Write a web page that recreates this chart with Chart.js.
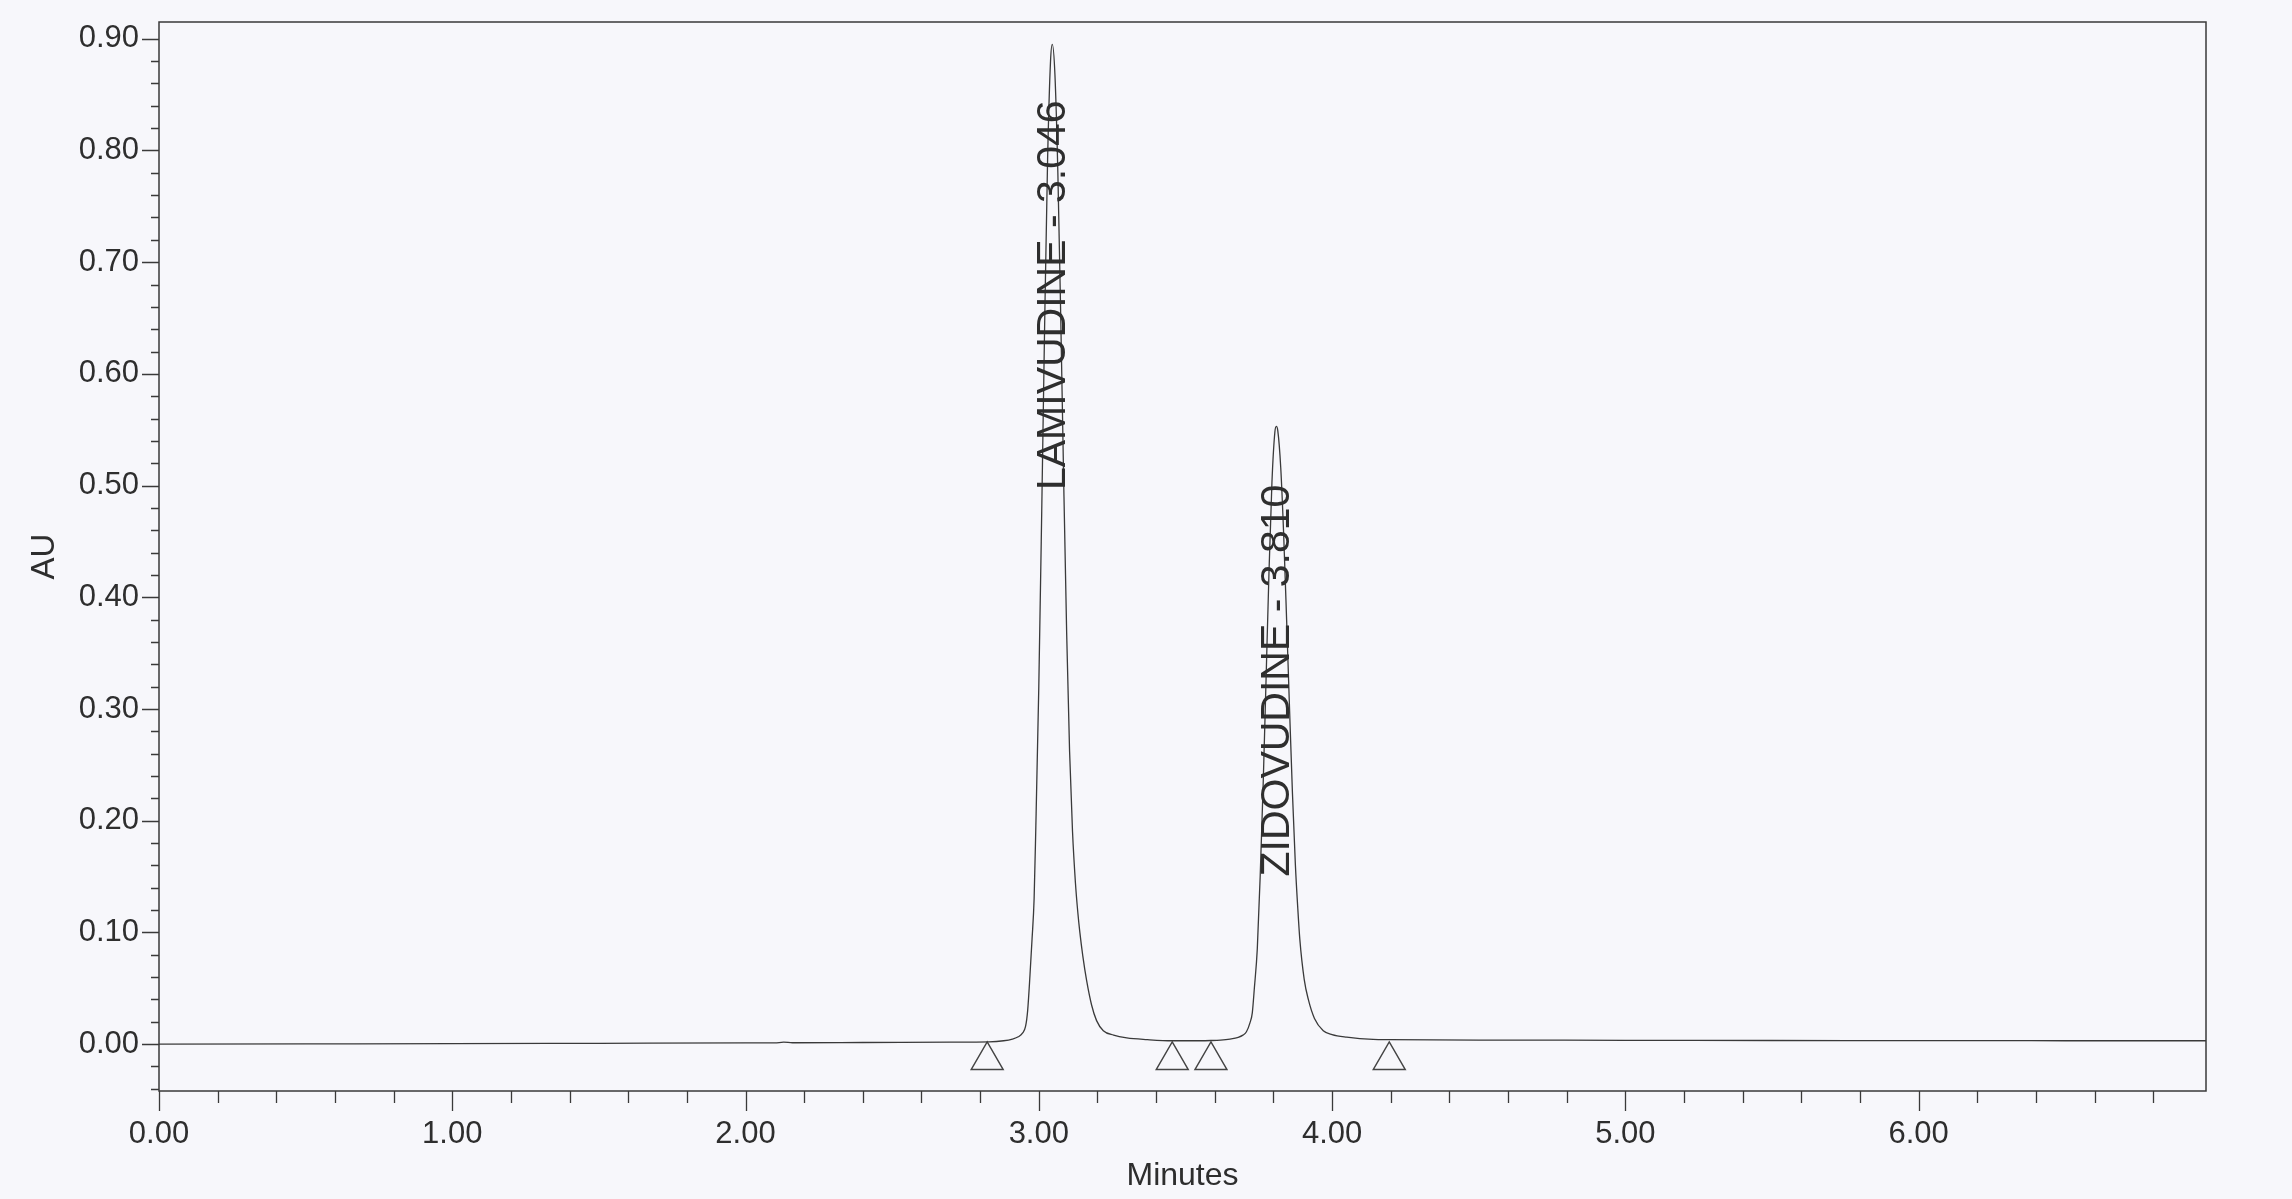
<!DOCTYPE html>
<html>
<head>
<meta charset="utf-8">
<title>Chromatogram</title>
<script src="https://cdn.jsdelivr.net/npm/chart.js@4"></script>
<style>
  html, body { margin: 0; padding: 0; background: #f7f7fb; }
  #wrap { width: 2292px; height: 1199px; position: relative; }
</style>
</head>
<body>
<div id="wrap"><canvas id="chrom"></canvas></div>
<script>
// trace (minutes, AU)
const traceTimes = [
  0.00, 0.50, 1.00, 1.50, 2.00, 2.10, 2.13, 2.16, 2.40, 2.70,
  2.83, 2.88, 2.91, 2.93, 2.945, 2.955, 2.962, 2.970, 2.977, 2.984,
  2.990, 3.000, 3.010, 3.020, 3.030, 3.040, 3.046, 3.055, 3.065, 3.075,
  3.085, 3.095, 3.105, 3.115, 3.125, 3.133, 3.140, 3.150, 3.163, 3.180, 3.197,
  3.220, 3.255, 3.300, 3.370, 3.455, 3.550, 3.587, 3.620, 3.652, 3.680,
  3.696, 3.708, 3.720, 3.728, 3.735, 3.745, 3.755, 3.765, 3.775, 3.785,
  3.795, 3.805, 3.810, 3.815, 3.825, 3.835, 3.845, 3.855, 3.865, 3.875,
  3.883, 3.890, 3.905, 3.919, 3.940, 3.970, 4.000, 4.050, 4.140, 4.195,
  4.50, 5.00, 5.50, 6.00, 6.50, 6.98
];
const traceAU = [
  0.0000, 0.0002, 0.0004, 0.0007, 0.0010, 0.0011, 0.0017, 0.0012, 0.0014, 0.0017,
  0.0020, 0.0030, 0.0045, 0.0065, 0.010, 0.016, 0.030, 0.062, 0.094, 0.130,
  0.196, 0.320, 0.477, 0.645, 0.792, 0.880, 0.895, 0.868, 0.780, 0.648,
  0.502, 0.368, 0.262, 0.190, 0.144, 0.118, 0.100, 0.079, 0.057, 0.035, 0.021,
  0.012, 0.008, 0.0055, 0.0040, 0.0030, 0.0030, 0.0032, 0.0036, 0.0045, 0.0060,
  0.0080, 0.011, 0.019, 0.028, 0.050, 0.085, 0.151, 0.232, 0.327, 0.423,
  0.503, 0.548, 0.553, 0.549, 0.516, 0.456, 0.380, 0.300, 0.224, 0.160,
  0.122, 0.094, 0.058, 0.040, 0.023, 0.012, 0.0085, 0.0062, 0.0042, 0.0040,
  0.0036, 0.0034, 0.0032, 0.0031, 0.0030, 0.0030
];

// integration markers (start / end of each peak)
const markerTimes = [2.824, 3.455, 3.587, 4.195];
const markerAU = [-0.0145, -0.0145, -0.0145, -0.0145];

// peak annotations
const peakNames = ['LAMIVUDINE', 'ZIDOVUDINE'];
const peakTimes = [3.046, 3.810];
const labelBaseAU = [0.496, 0.150];

const FONT = '"Liberation Sans", Arial, Helvetica, sans-serif';
const INK = '#2e2e2e';

function isMajor(v, step) {
  const n = Math.round(v / step * 1000) / 1000;
  return Math.abs(n - Math.round(n)) < 1e-6;
}

// box, major/minor ticks and peak labels
const chromPlugin = {
  id: 'chromPlugin',
  afterDraw(chart) {
    const ctx = chart.ctx;
    const a = chart.chartArea;
    const xs = chart.scales.x, ys = chart.scales.y;
    ctx.save();
    ctx.strokeStyle = '#3a3a3a';
    ctx.lineWidth = 1.5;
    ctx.strokeRect(a.left, a.top, a.right - a.left, a.bottom - a.top);

    ctx.lineWidth = 1.3;
    ctx.beginPath();
    ys.ticks.forEach(t => {
      const py = Math.round(ys.getPixelForValue(t.value)) + 0.5;
      const len = isMajor(t.value, 0.1) ? 17 : 8;
      ctx.moveTo(a.left - len, py);
      ctx.lineTo(a.left, py);
    });
    xs.ticks.forEach(t => {
      const px = Math.round(xs.getPixelForValue(t.value)) + 0.5;
      const len = isMajor(t.value, 1) ? 20 : 12;
      ctx.moveTo(px, a.bottom);
      ctx.lineTo(px, a.bottom + len);
    });
    ctx.stroke();

    ctx.fillStyle = INK;
    ctx.font = '41px ' + FONT;
    ctx.textAlign = 'left';
    ctx.textBaseline = 'middle';
    peakNames.forEach((name, i) => {
      const px = xs.getPixelForValue(peakTimes[i]);
      const py = ys.getPixelForValue(labelBaseAU[i]);
      ctx.save();
      ctx.translate(px, py);
      ctx.rotate(-Math.PI / 2);
      ctx.fillText(name + ' - ' + peakTimes[i].toFixed(3), 0, 1);
      ctx.restore();
    });
    ctx.restore();
  }
};

const ctx1 = document.getElementById('chrom').getContext('2d');
new Chart(ctx1, {
  type: 'line',
  data: {
    datasets: [{
      label: 'AU',
      data: traceTimes.map((t, i) => ({ x: t, y: traceAU[i] })),
      borderColor: '#3a3a3a',
      borderWidth: 1.3,
      pointRadius: 0,
      fill: false,
      cubicInterpolationMode: 'monotone'
    }, {
      label: 'markers',
      data: markerTimes.map((t, i) => ({ x: t, y: markerAU[i] })),
      showLine: false,
      pointStyle: 'triangle',
      pointRadius: 18.5,
      pointBorderWidth: 1.4,
      pointBorderColor: '#444444',
      pointBackgroundColor: 'rgba(0,0,0,0)'
    }]
  },
  options: {
    responsive: true,
    maintainAspectRatio: false,
    animation: false,
    events: [],
    layout: { padding: { top: 22, right: 86, left: 0, bottom: 0 } },
    plugins: { legend: { display: false }, tooltip: { enabled: false } },
    scales: {
      x: {
        type: 'linear',
        min: 0,
        max: 6.98,
        afterFit(scale) { scale.height = 108; },
        border: { display: false },
        grid: { display: true, drawOnChartArea: false, tickLength: 20, tickColor: 'rgba(0,0,0,0)' },
        ticks: {
          stepSize: 0.2,
          maxTicksLimit: 100,
          includeBounds: false,
          autoSkip: false,
          maxRotation: 0,
          padding: 5,
          color: INK,
          font: { family: FONT, size: 31 },
          callback: v => isMajor(v, 1) ? Number(v).toFixed(2) : ''
        },
        title: {
          display: true,
          text: 'Minutes',
          color: INK,
          font: { family: FONT, size: 32 },
          padding: { top: 4, bottom: 4 }
        }
      },
      y: {
        type: 'linear',
        min: -0.042,
        max: 0.915,
        afterFit(scale) { scale.width = 159; },
        border: { display: false },
        grid: { display: true, drawOnChartArea: false, tickLength: 17, tickColor: 'rgba(0,0,0,0)' },
        ticks: {
          stepSize: 0.02,
          maxTicksLimit: 100,
          includeBounds: false,
          autoSkip: false,
          padding: 3,
          color: INK,
          font: { family: FONT, size: 31 },
          callback: v => isMajor(v, 0.1) ? Number(v).toFixed(2) : ''
        },
        title: {
          display: true,
          text: 'AU',
          color: INK,
          font: { family: FONT, size: 33 },
          padding: { top: 25, bottom: 0 }
        }
      }
    }
  },
  plugins: [chromPlugin]
});
</script>
</body>
</html>
